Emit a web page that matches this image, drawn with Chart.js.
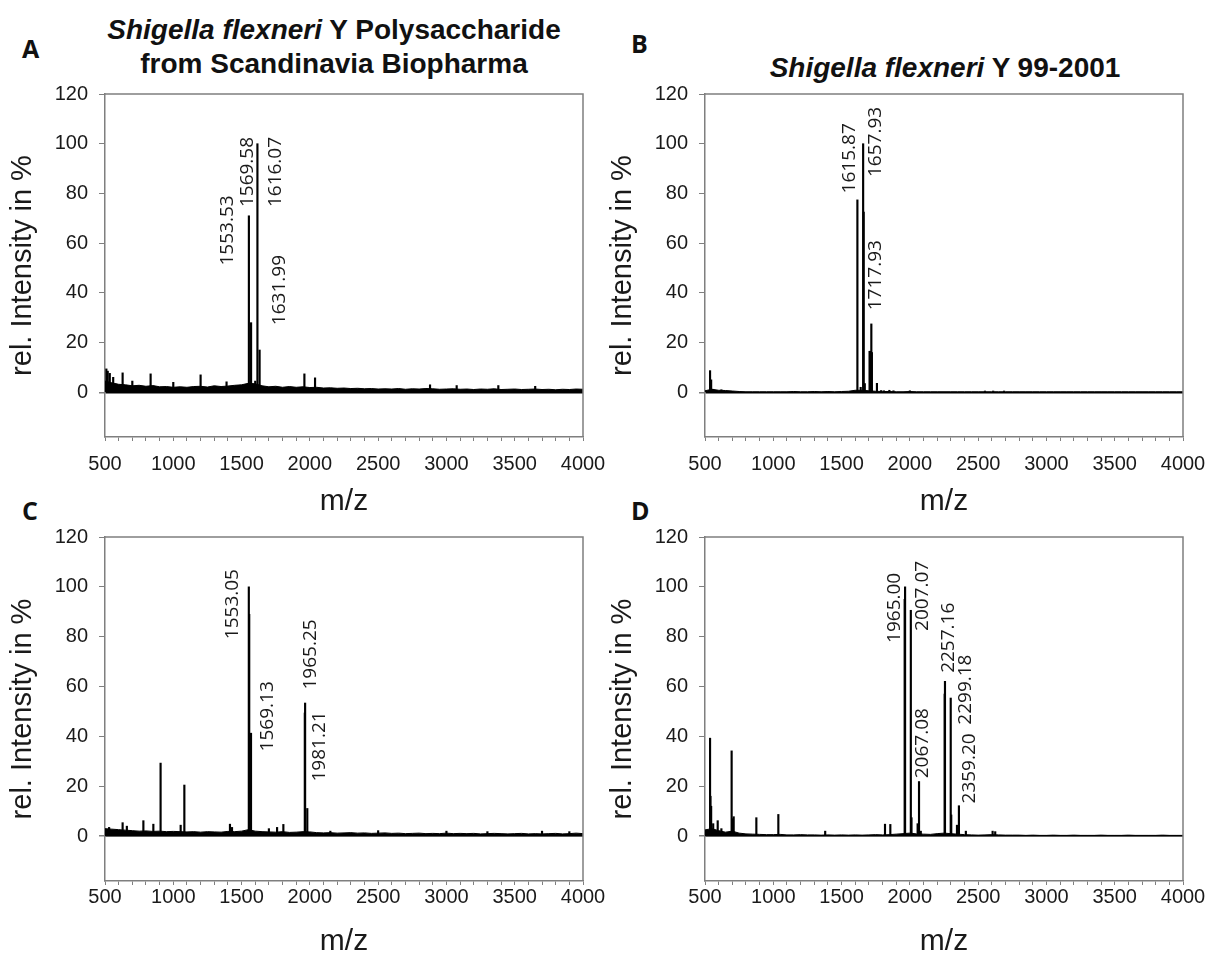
<!DOCTYPE html>
<html>
<head>
<meta charset="utf-8">
<script src="https://cdn.jsdelivr.net/npm/chart.js@4.4.1/dist/chart.umd.min.js"></script>
<style>
  html, body { margin: 0; padding: 0; background: #fff; }
  body { width: 1207px; height: 962px; position: relative; overflow: hidden;
         font-family: "Liberation Sans", Arial, sans-serif; }
  canvas { position: absolute; }
  .title { position: absolute; width: 500px; text-align: center; font-weight: bold;
           font-size: 28px; line-height: 34px; color: #111; white-space: nowrap; }
  .letter { position: absolute; font-family: "Open Sans", sans-serif; font-weight: bold;
            font-size: 25px; line-height: 25px; color: #111; }
</style>
</head>
<body>
<div class="letter" style="left:22px;top:36px">A</div>
<div class="letter" style="left:631px;top:31px">B</div>
<div class="letter" style="left:22px;top:498px">C</div>
<div class="letter" style="left:631px;top:498px">D</div>

<div class="title" style="left:84px;top:13px"><i>Shigella flexneri</i> Y Polysaccharide<br>from Scandinavia Biopharma</div>
<div class="title" style="left:695px;top:51px"><i>Shigella flexneri</i> Y 99-2001</div>

<canvas id="chartA" width="610" height="440" style="left:0;top:80px"></canvas>
<canvas id="chartB" width="610" height="440" style="left:600px;top:80px"></canvas>
<canvas id="chartC" width="610" height="442" style="left:0;top:520px"></canvas>
<canvas id="chartD" width="610" height="442" style="left:600px;top:520px"></canvas>

<script>
// ---- spectrum data: m/z of each stick and its relative intensity (%) ----
const mzA  = [510, 520, 535, 560, 629, 700, 834, 1000, 1200, 1390, 1553.53, 1569.58, 1600, 1616.07, 1631.99, 1960, 2038, 2880, 3075, 3380, 3650];
const intA = [9.4, 8.5, 7.6, 6.0, 7.8, 4.5, 7.4, 4.0, 7.0, 4.2, 71, 28, 4.5, 100, 17, 7.4, 5.8, 3.0, 2.7, 2.7, 2.4];

const mzB  = [537, 545, 560, 620, 1615.87, 1640, 1657.93, 1662, 1670, 1705, 1710, 1717.93, 1722, 1759, 1790, 1810, 1850, 1880, 2000, 2550, 2610, 2690];
const intB = [8.7, 5.0, 1.2, 1.0, 77.4, 2.0, 100, 72.5, 3.5, 16.5, 16.5, 27.5, 16.0, 3.6, 0.7, 0.6, 0.8, 0.6, 0.6, 0.5, 0.5, 0.5];

const mzC  = [530, 629, 660, 781, 854, 907, 1054, 1081, 1415, 1430, 1553.05, 1556, 1567, 1569.13, 1700, 1760, 1806, 1963, 1965.25, 1981.21, 2150, 2500, 3000, 3300, 3700, 3900];
const intC = [3.5, 5.4, 4.0, 6.2, 4.8, 29.3, 4.4, 20.5, 4.8, 3.5, 100, 89, 36.6, 41.3, 3.0, 3.5, 4.7, 49.4, 53.4, 11.1, 2.0, 2.2, 2.0, 1.8, 2.0, 1.8];

const mzD  = [537, 540, 545, 560, 593, 620, 695, 700, 710, 876, 1037, 1380, 1818, 1857, 1962, 1965.00, 2007.07, 2012, 2057, 2067.08, 2080, 2255, 2257.16, 2299.18, 2303, 2345, 2359.20, 2410, 2606, 2625];
const intD = [39.3, 16, 12, 5, 6.2, 3, 34.2, 7, 7.8, 7.4, 8.7, 2, 4.8, 4.7, 95, 100, 90.6, 7.4, 5, 21.9, 2, 57, 62.1, 55.4, 8.5, 4.4, 12.2, 2, 2, 1.8];

// ---- baseline noise envelope, sampled every 50 m/z from 500 to 4000 ----
const noiseA = [
  4.5, 3.8, 3.2, 3.0, 2.6, 2.8, 2.4, 2.7, 2.2, 2.3,
  2.0, 2.2, 2.0, 2.3, 2.4, 2.1, 2.6, 2.3, 2.5, 2.8,
  3.0, 3.6, 3.4, 2.6, 2.2, 2.4, 2.0, 2.3, 2.0, 2.2,
  1.9, 2.0, 1.7, 1.8, 1.6, 1.7, 1.5, 1.6, 1.4, 1.5,
  1.3, 1.4, 1.3, 1.5, 1.2, 1.4, 1.3, 1.5, 1.4, 1.2,
  1.3, 1.4, 1.2, 1.3, 1.1, 1.3, 1.2, 1.4, 1.1, 1.2,
  1.3, 1.1, 1.2, 1.3, 1.1, 1.2, 1.0, 1.2, 1.1, 1.3,
  1.2
];
const noiseB = [
  0.6, 1.2, 0.8, 0.7, 0.5, 0.3, 0.2, 0.2, 0.2, 0.2,
  0.2, 0.2, 0.2, 0.3, 0.2, 0.2, 0.3, 0.2, 0.3, 0.2,
  0.3, 0.4, 0.8, 0.8, 0.6, 0.4, 0.3, 0.3, 0.2, 0.2,
  0.3, 0.2, 0.2, 0.2, 0.2, 0.2, 0.2, 0.2, 0.2, 0.2,
  0.2, 0.2, 0.2, 0.2, 0.2, 0.2, 0.2, 0.2, 0.2, 0.2,
  0.2, 0.2, 0.2, 0.2, 0.2, 0.2, 0.2, 0.2, 0.2, 0.2,
  0.2, 0.2, 0.2, 0.2, 0.2, 0.2, 0.2, 0.2, 0.2, 0.2,
  0.2
];
const noiseC = [
  3.0, 2.8, 2.6, 2.4, 2.2, 2.0, 2.1, 1.9, 2.0, 1.8,
  1.9, 1.8, 1.7, 1.8, 1.6, 1.8, 1.7, 1.6, 1.9, 1.8,
  2.0, 2.6, 2.0, 1.8, 1.7, 1.6, 1.8, 1.5, 1.6, 1.8,
  1.7, 1.4, 1.3, 1.4, 1.2, 1.3, 1.4, 1.2, 1.3, 1.1,
  1.2, 1.3, 1.1, 1.2, 1.0, 1.1, 1.2, 1.0, 1.1, 1.0,
  1.2, 1.0, 1.1, 1.0, 1.1, 0.9, 1.0, 1.1, 1.0, 0.9,
  1.0, 1.1, 0.9, 1.0, 0.9, 1.0, 1.1, 0.9, 1.0, 1.2,
  1.0
];
const noiseD = [
  2.5, 3.0, 2.2, 1.6, 2.0, 1.2, 0.9, 0.8, 0.7, 0.6,
  0.6, 0.7, 0.5, 0.5, 0.6, 0.5, 0.5, 0.4, 0.5, 0.4,
  0.5, 0.4, 0.5, 0.4, 0.5, 0.6, 0.5, 0.6, 0.8, 1.0,
  1.2, 0.9, 0.8, 0.7, 1.0, 1.2, 1.0, 0.8, 0.6, 0.5,
  0.4, 0.5, 0.6, 0.5, 0.4, 0.4, 0.4, 0.3, 0.4, 0.3,
  0.3, 0.4, 0.3, 0.3, 0.4, 0.3, 0.3, 0.3, 0.4, 0.3,
  0.3, 0.3, 0.4, 0.3, 0.3, 0.3, 0.3, 0.4, 0.3, 0.3,
  0.3
];

// ---- axis tick values ----
const xTickLabels = [500, 1000, 1500, 2000, 2500, 3000, 3500, 4000];
const yTickLabels = [0, 20, 40, 60, 80, 100, 120];

// ---- annotated peaks (label text is the peak's m/z) ----
const labeledA = [1553.53, 1569.58, 1616.07, 1631.99];
const labeledB = [1615.87, 1657.93, 1717.93];
const labeledC = [1553.05, 1569.13, 1965.25, 1981.21];
const labeledD = [1965.00, 2007.07, 2067.08, 2257.16, 2299.18, 2359.20];

// where each rotated label sits: [centre m/z, intensity at the text's lower end]
const labelPlaceA = [[1400, 51], [1542, 74.5], [1752, 74.5], [1781, 27]];
const labelPlaceB = [[1562, 80], [1752, 86.6], [1750, 33]];
const labelPlaceC = [[1435, 79], [1691, 34], [2006, 58.8], [2074, 21.9]];
const labelPlaceD = [[1891, 77.5], [2091, 82.3], [2091, 23.2], [2282, 65.5], [2411, 44.7], [2440, 13.1]];

const noiseGrid = [];
for (let m = 500; m <= 4000; m += 50) noiseGrid.push(m);

const AXIS_GREY = '#7f7f7f';
const TEXT = '#1a1a1a';
const SANS = '"Liberation Sans", Arial, sans-serif';

// frame around the plotting area (top and right edges)
const framePlugin = {
  id: 'frame',
  afterDraw(chart) {
    const { ctx, chartArea: a } = chart;
    ctx.save();
    ctx.strokeStyle = AXIS_GREY;
    ctx.lineWidth = 1.5;
    ctx.beginPath();
    ctx.moveTo(a.left, a.top);
    ctx.lineTo(a.right, a.top);
    ctx.lineTo(a.right, a.bottom);
    ctx.stroke();
    ctx.restore();
  }
};

// vertical m/z labels next to the main peaks
const peakLabelPlugin = {
  id: 'peakLabels',
  afterDatasetsDraw(chart, args, opts) {
    const { ctx, scales: { x, y } } = chart;
    ctx.save();
    ctx.fillStyle = TEXT;
    ctx.font = '19px "Open Sans", sans-serif';
    ctx.textAlign = 'left';
    ctx.textBaseline = 'middle';
    opts.values.forEach((v, i) => {
      const [mx, my] = opts.places[i];
      ctx.save();
      ctx.translate(x.getPixelForValue(mx), y.getPixelForValue(my));
      ctx.rotate(-Math.PI / 2);
      ctx.fillText(v.toFixed(2), 0, 0);
      ctx.restore();
    });
    ctx.restore();
  }
};

function spectrum(id, mz, inten, noise, labeled, places, lay) {
  const peaks = mz.map((m, i) => ({ x: m, y: inten[i] }));
  const band = noiseGrid.map((m, i) => ({ x: m, y: noise[i] }));
  return new Chart(document.getElementById(id), {
    type: 'bar',
    data: {
      datasets: [
        { type: 'bar', data: peaks, backgroundColor: '#000', borderWidth: 0,
          barThickness: 1.5, grouped: false, order: 1 },
        { type: 'line', data: band, borderColor: '#000', borderWidth: 1,
          backgroundColor: '#000', fill: 'origin', pointRadius: 0, tension: 0, order: 2 }
      ]
    },
    options: {
      responsive: false,
      animation: false,
      devicePixelRatio: 1,
      layout: { padding: { left: 0, top: lay.top, right: 27, bottom: 0 } },
      plugins: {
        legend: { display: false },
        tooltip: { enabled: false },
        peakLabels: { values: labeled, places: places }
      },
      scales: {
        x: {
          type: 'linear', min: 500, max: 4000, offset: false,
          grid: { display: true, drawOnChartArea: false, offset: false,
                  tickLength: 4, tickColor: AXIS_GREY, tickWidth: 1 },
          border: { display: true, color: AXIS_GREY, width: 1.5 },
          ticks: {
            stepSize: 100, autoSkip: false, maxRotation: 0, padding: lay.xPad,
            color: TEXT, font: { family: SANS, size: 20 },
            callback: v => (xTickLabels.includes(v) ? String(v) : '')
          },
          title: { display: true, text: 'm/z', color: TEXT,
                   font: { family: SANS, size: 30, lineHeight: 1.2 },
                   padding: { top: 0, bottom: lay.xTitlePad } },
          afterBuildTicks: s => { s.ticks = s.ticks.filter(t => t.value % 100 === 0); },
          afterFit: s => { s.height = lay.xHeight; s.paddingLeft = 0; s.paddingRight = 0; }
        },
        y: {
          type: 'linear', min: -18, max: 120,
          grid: {
            drawOnChartArea: true, tickLength: 6, tickColor: AXIS_GREY,
            color: c => (c.tick && c.tick.value === 0 ? '#000' : 'rgba(0,0,0,0)'),
            lineWidth: c => (c.tick && c.tick.value === 0 ? 1.5 : 1)
          },
          border: { display: true, color: AXIS_GREY, width: 1.5 },
          ticks: {
            stepSize: 20, padding: 11, color: TEXT,
            font: { family: SANS, size: 20 }
          },
          title: { display: true, text: 'rel. Intensity in %', color: TEXT,
                   font: { family: SANS, size: 29, lineHeight: 1.2 },
                   padding: { top: 6, bottom: 0 } },
          afterBuildTicks: s => { s.ticks = yTickLabels.map(v => ({ value: v })); },
          afterFit: s => { s.width = 105; s.paddingTop = 0; s.paddingBottom = 0; }
        }
      }
    },
    plugins: [framePlugin, peakLabelPlugin]
  });
}

const topRow = { top: 14, xHeight: 83, xPad: 11.5, xTitlePad: 0 };
const bottomRow = { top: 17, xHeight: 81, xPad: 0.5, xTitlePad: 2 };

spectrum('chartA', mzA, intA, noiseA, labeledA, labelPlaceA, topRow);
spectrum('chartB', mzB, intB, noiseB, labeledB, labelPlaceB, topRow);
spectrum('chartC', mzC, intC, noiseC, labeledC, labelPlaceC, bottomRow);
spectrum('chartD', mzD, intD, noiseD, labeledD, labelPlaceD, bottomRow);
</script>
</body>
</html>
